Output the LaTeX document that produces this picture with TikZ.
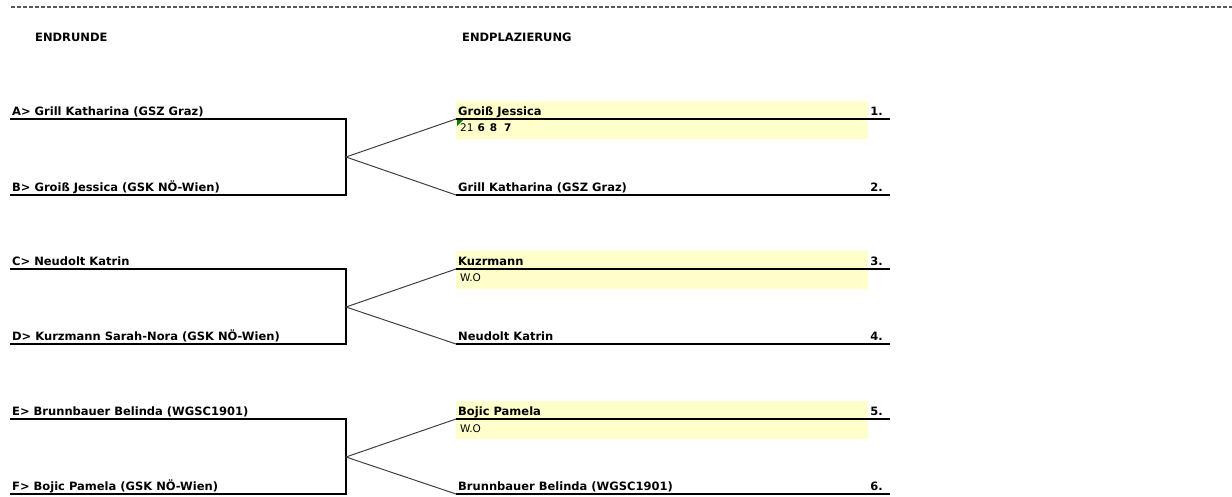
\documentclass[tikz,border=0pt]{standalone}
\usepackage{fontspec}
\setmainfont{DejaVu Sans}
\usetikzlibrary{positioning}
\definecolor{cellyellow}{RGB}{255,255,204}
\definecolor{notegreen}{RGB}{0,128,0}
\begin{document}
\begin{tikzpicture}[x=1pt, y=-1pt, font=\bfseries\fontsize{11.5}{13}\selectfont, line join=miter,
		player/.style={anchor=base west, inner sep=0pt, xshift=2pt, yshift=4pt},
		rank/.style={anchor=base east, inner sep=0pt, xshift=-7pt, yshift=4pt},
		score/.style={anchor=north west, inner sep=0pt, xshift=4pt, yshift=-5pt, font=\fontsize{10.5}{12}\selectfont},
		bar/.style={line width=1.8pt},
		link/.style={line width=1pt, black!75}]
		\useasboundingbox (0,0) rectangle (1232,496);
		\draw[black!65, line width=1.4pt, dash pattern=on 4pt off 2pt] (11,7) coordinate(t0) -- (1232,7) coordinate(t1);
		\node[anchor=base west, inner sep=0pt] (hRound) at (35,41) {ENDRUNDE};
		\node[anchor=base west, inner sep=0pt] (hPlace) at (462,41) {ENDPLAZIERUNG};
		% yellow cells
		\fill[cellyellow] (456,101) rectangle (868,139) (456,251) rectangle (868,289) (456,401) rectangle (868,439);
		% brackets
		\draw[bar] (10,119) coordinate(a0) -- (346,119) -- (346,195) -- (10,195) coordinate(b0);
		\draw[bar] (10,269) coordinate(c0) -- (346,269) -- (346,344) -- (10,344) coordinate(d0);
		\draw[bar] (10,419) coordinate(e0) -- (346,419) -- (346,494) -- (10,494) coordinate(f0);
		\coordinate (m1) at (346,157);
		\coordinate (m2) at (346,307);
		\coordinate (m3) at (346,457);
		% placings
		\draw[bar] (456,119) coordinate(w1) -- (890,119) coordinate(r1);
		\draw[bar] (456,195) coordinate(l1) -- (890,195) coordinate(r2);
		\draw[bar] (456,269) coordinate(w2) -- (890,269) coordinate(r3);
		\draw[bar] (456,344) coordinate(l2) -- (890,344) coordinate(r4);
		\draw[bar] (456,419) coordinate(w3) -- (890,419) coordinate(r5);
		\draw[bar] (456,494) coordinate(l3) -- (890,494) coordinate(r6);
		\draw[link] (w1) -- (m1) -- (l1);
		\draw[link] (w2) -- (m2) -- (l2);
		\draw[link] (w3) -- (m3) -- (l3);
		\fill[notegreen] (457,120) -- (463,120) -- (457,126) -- cycle;
		% names
		\node[player] (pA) at (a0) {A> Grill Katharina (GSZ Graz)};
		\node[player] (pB) at (b0) {B> Groiß Jessica (GSK NÖ-Wien)};
		\node[player] (pC) at (c0) {C> Neudolt Katrin};
		\node[player] (pD) at (d0) {D> Kurzmann Sarah-Nora (GSK NÖ-Wien)};
		\node[player] (pE) at (e0) {E> Brunnbauer Belinda (WGSC1901)};
		\node[player] (pF) at (f0) {F> Bojic Pamela (GSK NÖ-Wien)};
		\node[player] (q1) at (w1) {Groiß Jessica};
		\node[player] (q2) at (l1) {Grill Katharina (GSZ Graz)};
		\node[player] (q3) at (w2) {Kuzrmann};
		\node[player] (q4) at (l2) {Neudolt Katrin};
		\node[player] (q5) at (w3) {Bojic Pamela};
		\node[player] (q6) at (l3) {Brunnbauer Belinda (WGSC1901)};
		\node[score] (s1) at (w1) {21\hspace{4pt}\textbf{6\hspace{5pt}8\hspace{7pt}7}};
		\node[score] (s2) at (w2) {W.O};
		\node[score] (s3) at (w3) {W.O};
		\node[rank] (n1) at (r1) {1.};
		\node[rank] (n2) at (r2) {2.};
		\node[rank] (n3) at (r3) {3.};
		\node[rank] (n4) at (r4) {4.};
		\node[rank] (n5) at (r5) {5.};
		\node[rank] (n6) at (r6) {6.};
\end{tikzpicture}
\end{document}
